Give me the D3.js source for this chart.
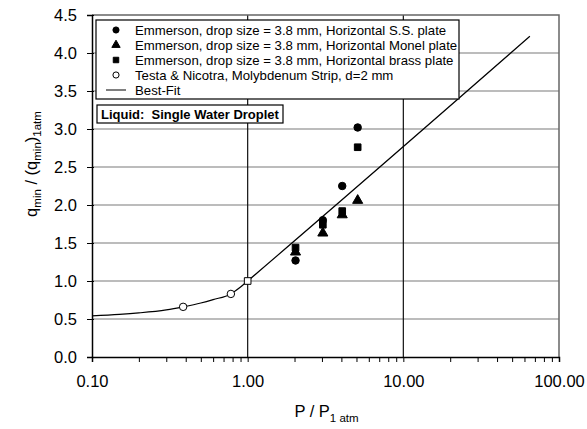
<!DOCTYPE html>
<html>
<head>
<meta charset="utf-8">
<script src="https://cdn.jsdelivr.net/npm/d3@7"></script>
<style>
  body { margin: 0; background: #fff; }
  text { font-family: "Liberation Sans", Arial, sans-serif; fill: #000; }
</style>
</head>
<body>
<div class="chart"></div>
<script>
// data
var ssPlate    = [[2.03, 1.27], [3.04, 1.80], [4.05, 2.25], [5.09, 3.02]];
var monelPlate = [[2.03, 1.38], [3.04, 1.63], [4.05, 1.87], [5.09, 2.06]];
var brassPlate = [[2.03, 1.44], [3.04, 1.74], [4.05, 1.92], [5.09, 2.76]];
var testaStrip = [[0.385, 0.66], [0.78, 0.83]];
var refPoint   = [[1.0, 1.0]];
var bestFit    = [[0.1, 0.54], [0.15, 0.56], [0.2, 0.58], [0.3, 0.62], [0.385, 0.66],
                  [0.5, 0.71], [0.6, 0.755], [0.78, 0.83], [0.9, 0.92], [1.0, 1.0], [65, 4.22]];
var yTicks = [0, 0.5, 1, 1.5, 2, 2.5, 3, 3.5, 4, 4.5];
var xTicks = [0.1, 1, 10, 100];
var legendLabels = [
  "Emmerson, drop size = 3.8 mm, Horizontal S.S. plate",
  "Emmerson, drop size = 3.8 mm, Horizontal Monel plate",
  "Emmerson, drop size = 3.8 mm, Horizontal brass plate",
  "Testa & Nicotra, Molybdenum Strip, d=2 mm",
  "Best-Fit"
];

// set the dimensions and margins of the graph
var margin = {top: 15, right: 28, bottom: 72, left: 92},
    width = 587 - margin.left - margin.right,
    height = 429 - margin.top - margin.bottom;

var x = d3.scaleLog().domain([0.1, 100]).range([0, width]);
var y = d3.scaleLinear().domain([0, 4.5]).range([height, 0]);

var svg = d3.select(".chart").append("svg")
    .attr("width", width + margin.left + margin.right)
    .attr("height", height + margin.top + margin.bottom)
    .append("g")
    .attr("transform", "translate(" + margin.left + "," + margin.top + ")");

// horizontal grid lines
svg.selectAll(".hgrid")
    .data(yTicks.slice(1, -1))
    .enter().append("line")
    .attr("x1", 0).attr("x2", width)
    .attr("y1", function(d) { return y(d); })
    .attr("y2", function(d) { return y(d); })
    .attr("stroke", "#7a7a7a")
    .attr("stroke-width", 1.2);

// vertical grid lines
svg.selectAll(".vgrid")
    .data([1, 10])
    .enter().append("line")
    .attr("y1", 0).attr("y2", height)
    .attr("x1", function(d) { return x(d); })
    .attr("x2", function(d) { return x(d); })
    .attr("stroke", "#111")
    .attr("stroke-width", 1.2);

// top / right frame
svg.append("path")
    .attr("d", "M0,0H" + width + "V" + height)
    .attr("fill", "none")
    .attr("stroke", "#666")
    .attr("stroke-width", 1.5);

// X axis with minor ticks
var minor = [];
[0.1, 1, 10].forEach(function(dec) {
  for (var k = 2; k <= 9; k++) minor.push(dec * k);
});
svg.append("g")
    .attr("transform", "translate(0," + height + ")")
    .call(d3.axisBottom(x).tickValues(minor).tickSize(5).tickFormat(""))
    .call(function(g) { g.select(".domain").remove(); });

var xAxis = svg.append("g")
    .attr("transform", "translate(0," + height + ")")
    .call(d3.axisBottom(x).tickValues(xTicks).tickSize(5).tickPadding(13)
        .tickFormat(d3.format(".2f")));
xAxis.selectAll("text").style("font-size", "16.5px");
xAxis.select(".domain").attr("stroke-width", 1.5);

// Y axis
var yAxis = svg.append("g")
    .call(d3.axisLeft(y).tickValues(yTicks).tickSize(5).tickPadding(10)
        .tickFormat(d3.format(".1f")));
yAxis.selectAll("text").style("font-size", "16.5px");
yAxis.select(".domain").attr("stroke-width", 1.5);
yAxis.selectAll(".tick line").attr("transform", "translate(2,0)").attr("x2", -7);

// best fit line
var valueline = d3.line()
    .curve(d3.curveMonotoneX)
    .x(function(d) { return x(d[0]); })
    .y(function(d) { return y(d[1]); });

svg.append("path")
    .datum(bestFit)
    .attr("d", valueline)
    .attr("fill", "none")
    .attr("stroke", "#000")
    .attr("stroke-width", 1.2);

// markers
var sym = {
  circle: d3.symbol().type(d3.symbolCircle).size(44),
  triangle: d3.symbol().type(d3.symbolTriangle).size(44),
  square: d3.symbol().type(d3.symbolSquare).size(44)
};

function addPoints(data, shape, filled) {
  svg.append("g").selectAll("path")
      .data(data)
      .enter().append("path")
      .attr("d", sym[shape])
      .attr("transform", function(d) { return "translate(" + x(d[0]) + "," + y(d[1]) + ")"; })
      .attr("fill", filled ? "#000" : "#fff")
      .attr("stroke", "#000")
      .attr("stroke-width", 1);
}
addPoints(ssPlate, "circle", true);
addPoints(monelPlate, "triangle", true);
addPoints(brassPlate, "square", true);
addPoints(testaStrip, "circle", false);
addPoints(refPoint, "square", false);

// legend box
var legend = svg.append("g").attr("transform", "translate(4,5)");
legend.append("rect")
    .attr("width", 363).attr("height", 79)
    .attr("fill", "#fff")
    .attr("stroke", "#000")
    .attr("stroke-width", 1.2);

var legendShapes = ["circle", "triangle", "square", "circle", "line"];
legendLabels.forEach(function(label, i) {
  var ly = 10 + i * 15;
  var s = legendShapes[i];
  if (s === "line") {
    legend.append("line")
        .attr("x1", 10).attr("x2", 30)
        .attr("y1", ly).attr("y2", ly)
        .attr("stroke", "#000");
  } else {
    legend.append("path")
        .attr("d", d3.symbol().type(s === "circle" ? d3.symbolCircle :
              s === "triangle" ? d3.symbolTriangle : d3.symbolSquare).size(30))
        .attr("transform", "translate(20," + ly + ")")
        .attr("fill", i === 3 ? "#fff" : "#000")
        .attr("stroke", "#000");
  }
  legend.append("text")
      .text(label)
      .attr("x", 39)
      .attr("y", ly + 4.5)
      .style("font-size", "13.2px");
});

// liquid label box
var note = svg.append("g").attr("transform", "translate(5,90)");
note.append("rect")
    .attr("width", 186).attr("height", 18)
    .attr("fill", "#fff")
    .attr("stroke", "#000")
    .attr("stroke-width", 1.2);
note.append("text")
    .attr("x", 4).attr("y", 13.5)
    .style("font-size", "13px")
    .style("font-weight", "bold")
    .style("white-space", "pre")
    .text("Liquid:  Single Water Droplet");

// X axis title
var xt = svg.append("text")
    .attr("text-anchor", "middle")
    .attr("transform", "translate(" + (width / 2 + 1) + "," + (height + 60) + ")")
    .style("font-size", "16.5px");
xt.append("tspan").text("P / P");
xt.append("tspan").attr("dy", 5).style("font-size", "11.5px").text("1 atm");

// Y axis title
var yt = svg.append("text")
    .attr("text-anchor", "middle")
    .attr("transform", "translate(-55," + (height / 2 - 22) + ") rotate(-90)")
    .style("font-size", "16.5px");
yt.append("tspan").text("q");
yt.append("tspan").attr("dy", 4).style("font-size", "11.5px").text("min");
yt.append("tspan").attr("dy", -4).text(" / (q");
yt.append("tspan").attr("dy", 4).style("font-size", "11.5px").text("min");
yt.append("tspan").attr("dy", -4).text(")");
yt.append("tspan").attr("dy", 4).style("font-size", "11.5px").text("1atm");
</script>
</body>
</html>
